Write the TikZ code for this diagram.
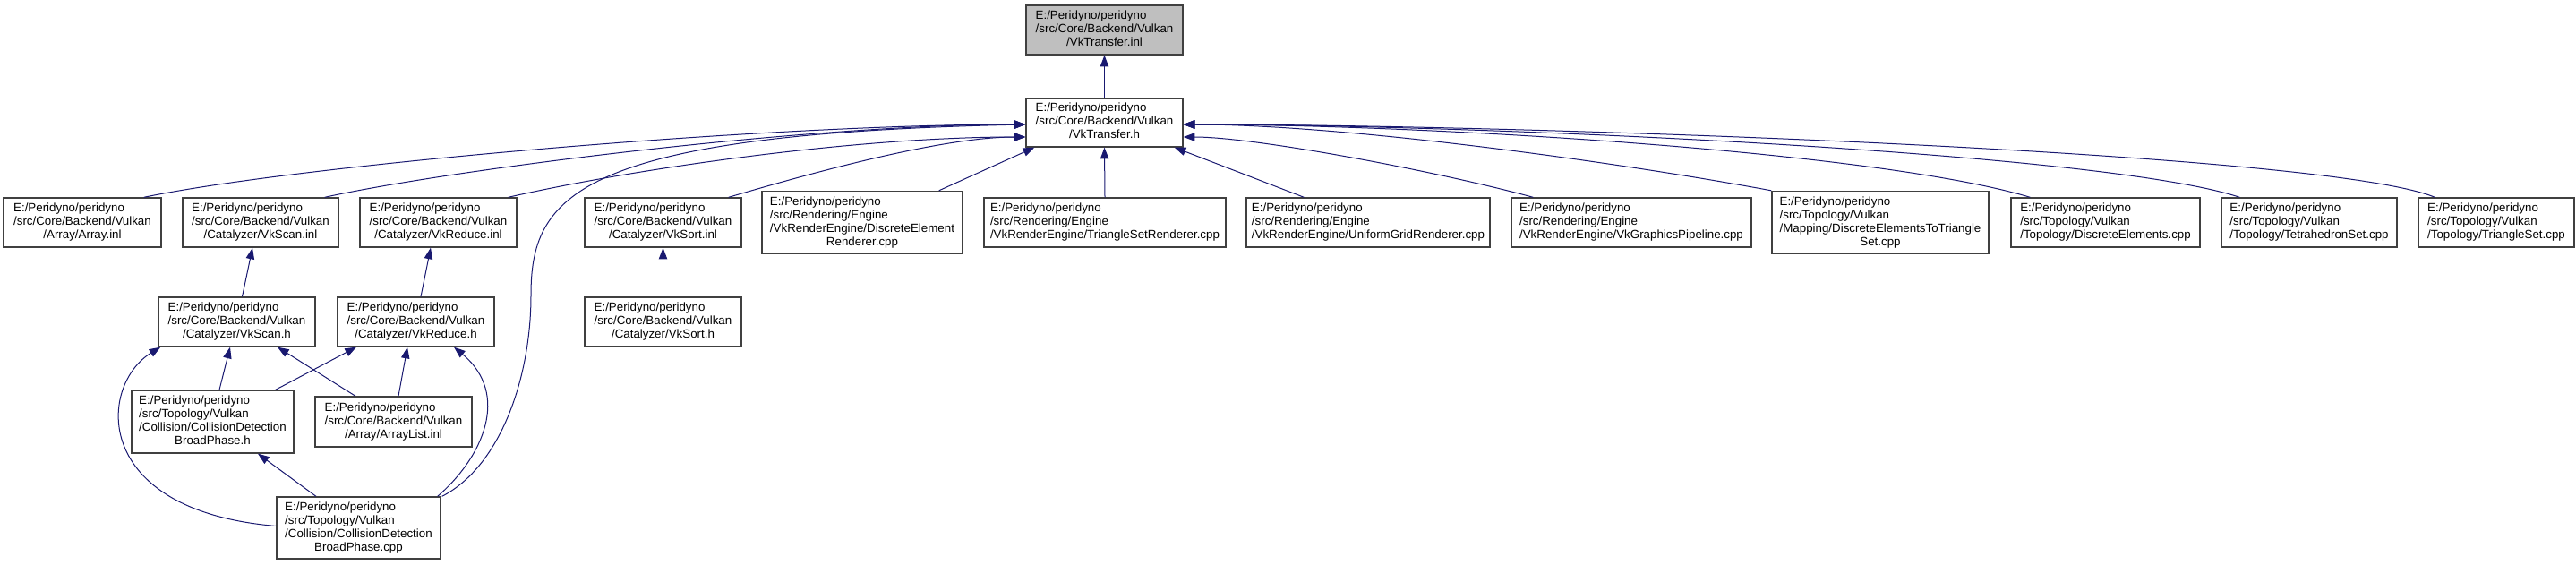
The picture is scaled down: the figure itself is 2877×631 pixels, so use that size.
\documentclass[tikz,border=0pt]{standalone}
\usepackage{fontspec}
\setmainfont{Liberation Sans}
\usetikzlibrary{arrows.meta,calc}

\definecolor{edgeblue}{HTML}{191970}
\definecolor{boxline}{HTML}{404040}
\definecolor{boxgrey}{HTML}{BFBFBF}

\newcommand{\fpath}[2]{\begin{tabular}{@{}l@{}}#1\\\multicolumn{1}{@{}c@{}}{#2}\end{tabular}}
\newcommand{\pcore}{E:/Peridyno/peridyno\\/src/Core/Backend/Vulkan}
\newcommand{\prender}{E:/Peridyno/peridyno\\/src/Rendering/Engine}
\newcommand{\ptopo}{E:/Peridyno/peridyno\\/src/Topology/Vulkan}

\tikzset{
  file/.style={draw=boxline, line width=1pt, fill=white, inner sep=0pt,
    font=\fontsize{10}{11.25}\selectfont, align=center},
  bw/.style={minimum width=#1*0.75pt},
  bh/.style={minimum height=#1*0.75pt},
  dep/.style={draw=edgeblue, line width=0.75pt,
    -{Triangle[length=9.5pt,width=7pt]}}
}

\begin{document}
\begin{tikzpicture}[x=0.75pt,y=-0.75pt]
  \useasboundingbox (0,0) rectangle (2877,631);

  \node[file, fill=boxgrey, bw=175, bh=55] (inl) at (1233.5,33.5) {\fpath{\pcore}{/VkTransfer.inl}};
  \node[file, bw=175, bh=54] (vkh) at (1233.5,137) {\fpath{\pcore}{/VkTransfer.h}};

  \node[file, bw=176, bh=55] (arr) at (92,248.5) {\fpath{\pcore}{/Array/Array.inl}};
  \node[file, bw=174, bh=55] (scaninl) at (291,248.5) {\fpath{\pcore}{/Catalyzer/VkScan.inl}};
  \node[file, bw=175, bh=55] (redinl) at (489.5,248.5) {\fpath{\pcore}{/Catalyzer/VkReduce.inl}};
  \node[file, bw=175, bh=55] (sortinl) at (740.5,248.5) {\fpath{\pcore}{/Catalyzer/VkSort.inl}};
  \node[file, bw=224, bh=70] (derend) at (963,248.5) {\fpath{\prender\\/VkRenderEngine/DiscreteElement}{Renderer.cpp}};
  \node[file, bw=270, bh=55] (trirend) at (1234,248.5) {\fpath{\prender}{/VkRenderEngine/TriangleSetRenderer.cpp}};
  \node[file, bw=272, bh=55] (gridrend) at (1528,248.5) {\fpath{\prender}{/VkRenderEngine/UniformGridRenderer.cpp}};
  \node[file, bw=268, bh=55] (gpipe) at (1822,248.5) {\fpath{\prender}{/VkRenderEngine/VkGraphicsPipeline.cpp}};
  \node[file, bw=242, bh=70] (d2t) at (2100,248.5) {\fpath{\ptopo\\/Mapping/DiscreteElementsToTriangle}{Set.cpp}};
  \node[file, bw=211, bh=55] (delem) at (2351.5,248.5) {\fpath{\ptopo}{/Topology/DiscreteElements.cpp}};
  \node[file, bw=196, bh=55] (tet) at (2579,248.5) {\fpath{\ptopo}{/Topology/TetrahedronSet.cpp}};
  \node[file, bw=174, bh=55] (tri) at (2788,248.5) {\fpath{\ptopo}{/Topology/TriangleSet.cpp}};

  \node[file, bw=175, bh=55] (scanh) at (264.5,359.5) {\fpath{\pcore}{/Catalyzer/VkScan.h}};
  \node[file, bw=175, bh=55] (redh) at (464.5,359.5) {\fpath{\pcore}{/Catalyzer/VkReduce.h}};
  \node[file, bw=175, bh=55] (sorth) at (740.5,359.5) {\fpath{\pcore}{/Catalyzer/VkSort.h}};

  \node[file, bw=181, bh=70] (bph) at (237.5,471) {\fpath{\ptopo\\/Collision/CollisionDetection}{BroadPhase.h}};
  \node[file, bw=175, bh=56] (alist) at (439.5,471) {\fpath{\pcore}{/Array/ArrayList.inl}};
  \node[file, bw=183, bh=69] (bpcpp) at (400.5,589.5) {\fpath{\ptopo\\/Collision/CollisionDetection}{BroadPhase.cpp}};

  \draw[dep] (vkh.north) -- (inl.south);

  \draw[dep] ($(arr.north east)+(-20,0)$) .. controls (330,185) and (850,139) .. ($(vkh.west)+(0,2)$);
  \draw[dep] ($(scaninl.north east)+(-16,0)$) .. controls (500,190) and (900,139) .. ($(vkh.west)+(0,2)$);
  \draw[dep] ($(redinl.north east)+(-10,0)$) .. controls (700,190) and (950,153) .. ($(vkh.west)+(0,16)$);
  \draw[dep] ($(bpcpp.north east)+(1,0)$) .. controls (560,520) and (593,420) .. (593,330)
    .. controls (593,220) and (640,150) .. ($(vkh.west)+(0,2)$);
  \draw[dep] ($(sortinl.north east)+(-15,0)$) .. controls (900,195) and (1050,153) .. ($(vkh.west)+(0,16)$);
  \draw[dep] ($(derend.north east)+(-27,0)$) -- ($(vkh.south west)+(10,0)$);
  \draw[dep] (trirend.north) -- (vkh.south);
  \draw[dep] ($(gridrend.north west)+(65,0)$) -- ($(vkh.south east)+(-10,0)$);
  \draw[dep] ($(gpipe.north west)+(25,0)$) .. controls (1600,190) and (1400,153) .. ($(vkh.east)+(0,16)$);
  \draw[dep] (d2t.north west) .. controls (1800,180) and (1500,139) .. ($(vkh.east)+(0,2)$);
  \draw[dep] ($(delem.north west)+(22,0)$) .. controls (2100,170) and (1600,139) .. ($(vkh.east)+(0,2)$);
  \draw[dep] ($(tet.north west)+(21,0)$) .. controls (2350,170) and (1650,139) .. ($(vkh.east)+(0,2)$);
  \draw[dep] ($(tri.north west)+(19,0)$) .. controls (2600,170) and (1700,139) .. ($(vkh.east)+(0,2)$);

  \draw[dep] ($(scanh.north)+(6,0)$) -- ($(scaninl.south)+(-9,0)$);
  \draw[dep] ($(redh.north)+(5.5,0)$) -- ($(redinl.south)+(-8.5,0)$);
  \draw[dep] (sorth.north) -- (sortinl.south);

  \draw[dep] ($(bph.north)+(7.5,0)$) -- ($(scanh.south)+(-7.5,0)$);
  \draw[dep] ($(alist.north)+(-42.5,0)$) -- ($(scanh.south)+(45.5,0)$);
  \draw[dep] ($(bpcpp.west)+(0,-2)$) .. controls (100,570) and (110,430) .. ($(scanh.south west)+(3,0)$);
  \draw[dep] ($(bph.north east)+(-21,0)$) -- ($(redh.south)+(-66.5,0)$);
  \draw[dep] ($(alist.north)+(5.5,0)$) -- ($(redh.south)+(-9.5,0)$);
  \draw[dep] ($(bpcpp.north east)+(-4,0)$) .. controls (540,510) and (570,440) .. ($(redh.south)+(42.5,0)$);
  \draw[dep] ($(bpcpp.north)+(-47.5,0)$) -- ($(bph.south)+(50.5,0)$);
\end{tikzpicture}
\end{document}
